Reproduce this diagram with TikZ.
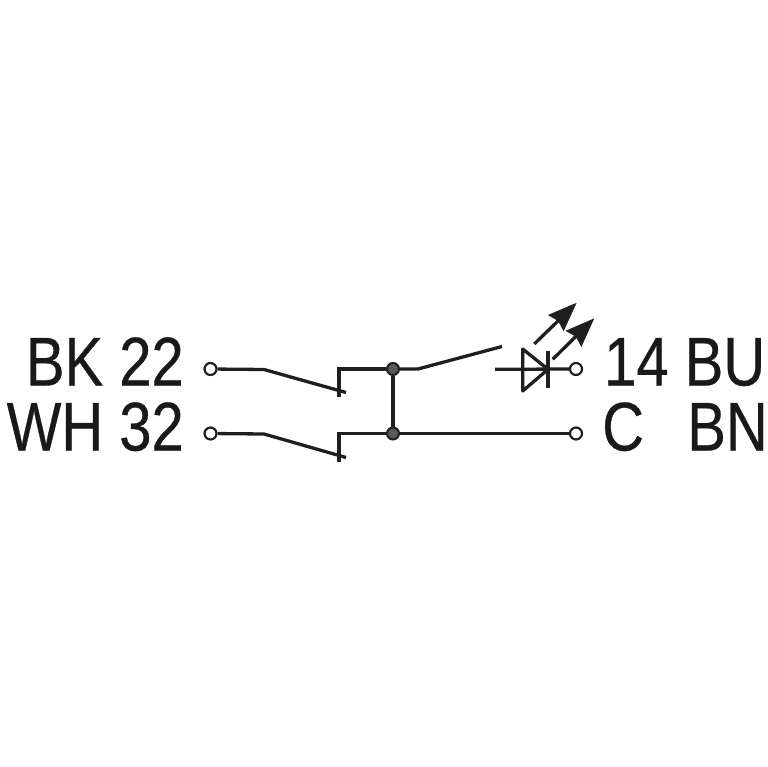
\documentclass[tikz,border=0pt]{standalone}
\usepackage{fontspec}
\setmainfont[FakeStretch=0.84,FakeBold=0.4]{Liberation Sans}
\usetikzlibrary{arrows.meta}
\tikzset{
 wire/.style={line width=3.3pt,color=black!88,line cap=butt,line join=miter},
 term/.style={circle,draw=black!88,fill=white,line width=2.2pt,minimum size=12pt,inner sep=0pt},
 junct/.style={circle,draw=black!88,fill=black!65,line width=2pt,minimum size=12pt,inner sep=0pt},
 lab/.style={font=\fontsize{69}{69}\selectfont,text=black!90,inner sep=0pt},
 ray/.style={line width=3.3pt,color=black!88,-{Stealth[length=29pt,width=22pt,inset=3pt]}}
}
\begin{document}
\begin{tikzpicture}[x=1pt,y=-1pt]
\useasboundingbox (0,0) rectangle (767,767);
\coordinate (b1) at (264,369.5);
\coordinate (b2) at (264,434);
\coordinate (e1) at (346,392.5);
\coordinate (e2) at (346,457.5);
\coordinate (c1) at (339,397);
\coordinate (c2) at (339,461.5);
\coordinate (k1) at (339,369);
\coordinate (k2) at (339,433.5);
\coordinate (s1) at (418,369);
\coordinate (s2) at (502,346.5);
\coordinate (d0) at (495,369.3);
\coordinate (d1) at (522.7,349);
\coordinate (d2) at (522.7,391);
\coordinate (d3) at (548,369.3);
\coordinate (d4) at (548,351);
\coordinate (d5) at (548,388);
\coordinate (a1) at (534.3,344);
\coordinate (a2) at (576.7,302.7);
\coordinate (a3) at (552.7,359.3);
\coordinate (a4) at (594.3,318.3);
\node[term] (t1) at (210.5,369) {};
\node[term] (t2) at (210.5,433.5) {};
\node[term] (t3) at (576,369) {};
\node[term] (t4) at (576,433.5) {};
\node[junct] (j1) at (393,369) {};
\node[junct] (j2) at (393,433.5) {};
\draw[wire] (t1) -- (b1) -- (e1);
\draw[wire] (t2) -- (b2) -- (e2);
\draw[wire] (c1) -- (k1) -- (j1);
\draw[wire] (c2) -- (k2) -- (j2);
\draw[wire] (j1) -- (j2);
\draw[wire] (j2) -- (t4);
\draw[wire] (j1) -- (s1) -- (s2);
\draw[wire] (d0) -- (t3);
\draw[wire,line join=round] (d1) -- (d2) -- (d3) -- cycle;
\draw[wire] (d4) -- (d5);
\draw[ray] (a1) -- (a2);
\draw[ray] (a3) -- (a4);
\node[lab,anchor=base east] (l1) at (184,385.5) {BK 22};
\node[lab,anchor=base east] (l2) at (184,450.5) {WH 32};
\node[lab,anchor=base west] (l3) at (604,385.5) {14 BU};
\node[lab,anchor=base west] (l4) at (602,450.5) {C};
\node[lab,anchor=base east] (l5) at (768,450.5) {BN};
\end{tikzpicture}
\end{document}
